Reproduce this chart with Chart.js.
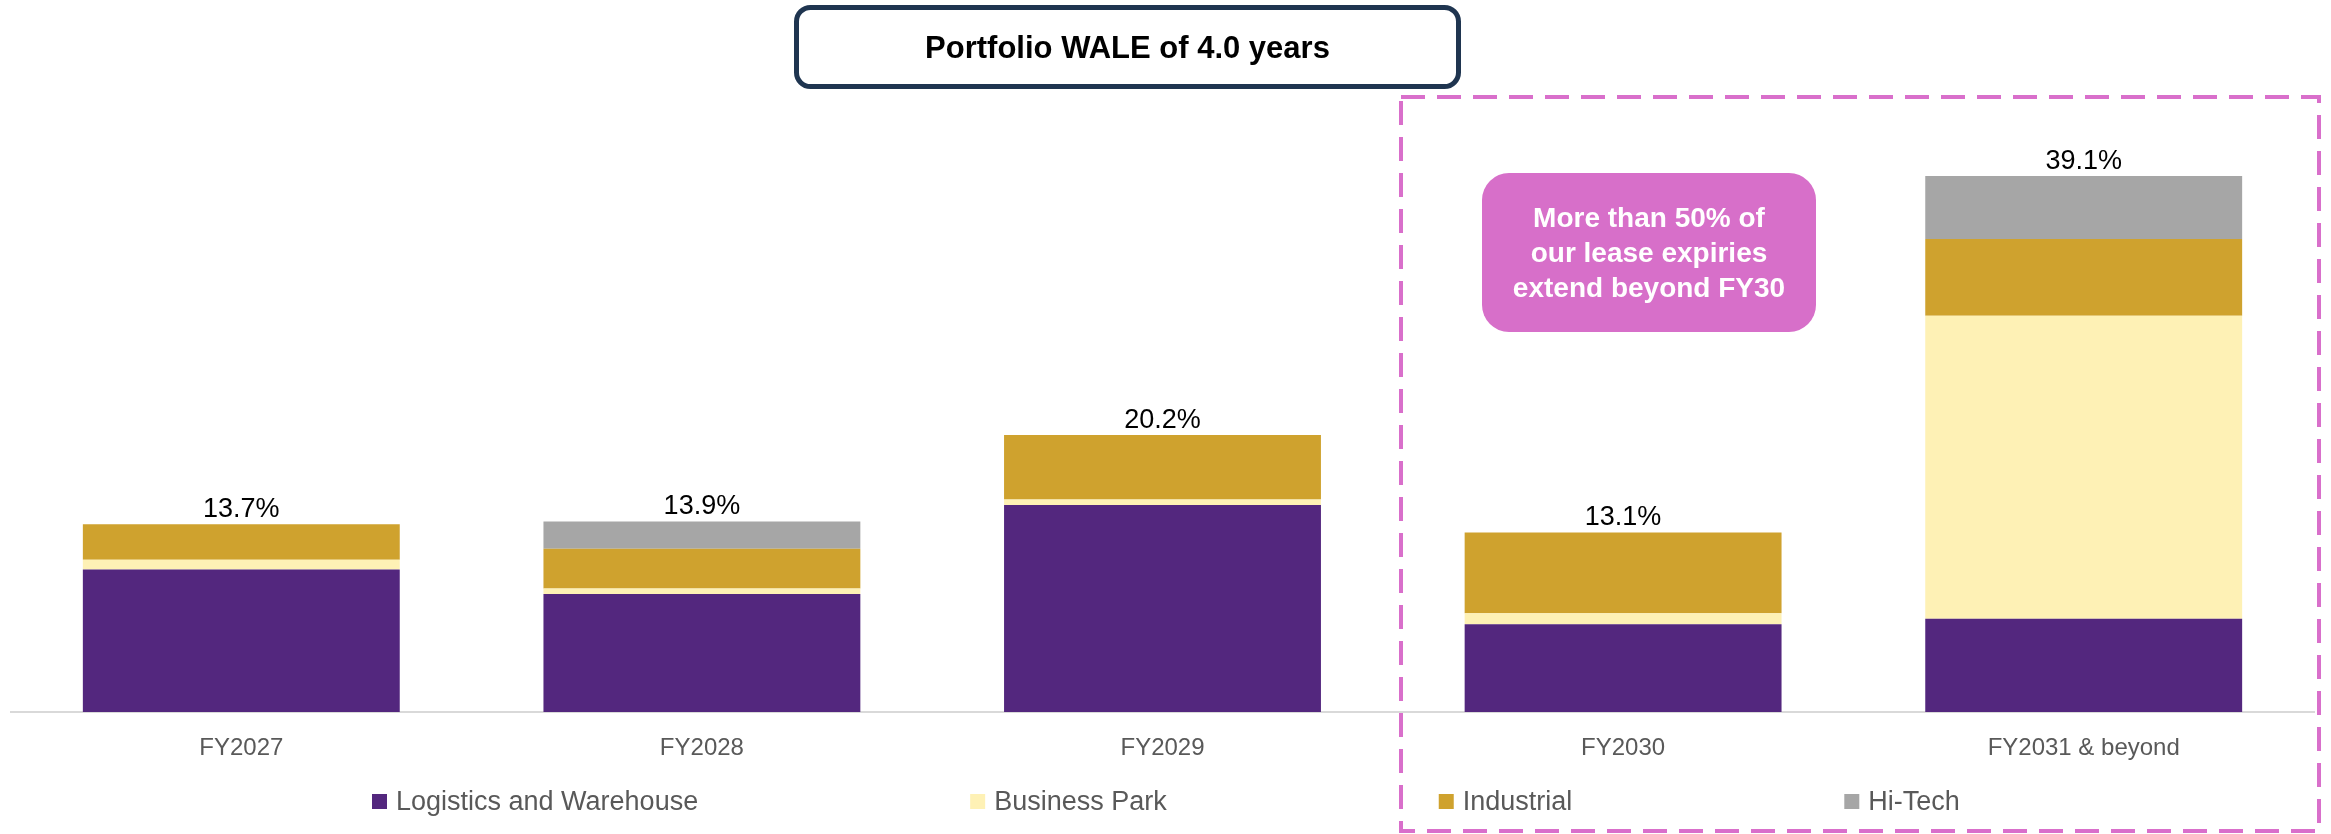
<!DOCTYPE html>
<html>
<head>
<meta charset="utf-8">
<title>Portfolio lease expiry</title>
<script src="https://cdn.jsdelivr.net/npm/chart.js@4.4.1/dist/chart.umd.min.js"></script>
<style>
    html, body { margin: 0; padding: 0; background: #ffffff; }
    #wrap { width: 2331px; height: 834px; }
</style>
</head>
<body>
<div id="wrap"><canvas id="expiryChart" width="2331" height="834"></canvas></div>
<script>
// lease expiry profile (% of portfolio)
const categories = ["FY2027", "FY2028", "FY2029", "FY2030", "FY2031 & beyond"];
const logistics = [10.4, 8.6, 15.1, 6.4, 6.8];
const businessPark = [0.7, 0.4, 0.4, 0.8, 22.1];
const industrial = [2.6, 2.9, 4.7, 5.9, 5.6];
const hiTech = [0, 2.0, 0, 0, 4.6];
const totals = [13.7, 13.9, 20.2, 13.1, 39.1];

const seriesNames = ["Logistics and Warehouse", "Business Park", "Industrial", "Hi-Tech"];
const seriesColors = ["#53277E", "#FEF1B5", "#CFA22E", "#A6A6A6"];

const titleText = "Portfolio WALE of 4.0 years";
const calloutLines = ["More than 50% of", "our lease expiries", "extend beyond FY30"];

const FONT = "'Liberation Sans', Arial, sans-serif";

function roundRect(ctx, x, y, w, h, r) {
    ctx.beginPath();
    ctx.moveTo(x + r, y);
    ctx.lineTo(x + w - r, y);
    ctx.arcTo(x + w, y, x + w, y + r, r);
    ctx.lineTo(x + w, y + h - r);
    ctx.arcTo(x + w, y + h, x + w - r, y + h, r);
    ctx.lineTo(x + r, y + h);
    ctx.arcTo(x, y + h, x, y + h - r, r);
    ctx.lineTo(x, y + r);
    ctx.arcTo(x, y, x + r, y, r);
    ctx.closePath();
}

// totals above each stack
const totalLabels = {
    id: "totalLabels",
    afterDatasetsDraw(chart) {
        const ctx = chart.ctx;
        const xs = chart.scales.x, ys = chart.scales.y;
        ctx.save();
        ctx.font = "27px " + FONT;
        ctx.fillStyle = "#000000";
        ctx.textAlign = "center";
        ctx.textBaseline = "alphabetic";
        totals.forEach((t, i) => {
            ctx.fillText(t.toFixed(1) + "%", xs.getPixelForValue(i), ys.getPixelForValue(t) - 7);
        });
        ctx.restore();
    }
};

// title box, dashed highlight, callout and legend
const decorations = {
    id: "decorations",
    afterDraw(chart) {
        const ctx = chart.ctx;
        ctx.save();

        // title box
        ctx.lineWidth = 5;
        ctx.strokeStyle = "#1F3550";
        ctx.fillStyle = "#ffffff";
        roundRect(ctx, 796.5, 7.5, 662, 79, 14);
        ctx.fill();
        ctx.stroke();
        ctx.fillStyle = "#000000";
        ctx.font = "bold 31px " + FONT;
        ctx.textAlign = "center";
        ctx.textBaseline = "alphabetic";
        ctx.fillText(titleText, 1127.5, 57.5);

        // dashed highlight around FY2030 onwards
        ctx.setLineDash([24, 12]);
        ctx.lineWidth = 4;
        ctx.strokeStyle = "#D96FCB";
        ctx.strokeRect(1401, 97, 918, 734);
        ctx.setLineDash([]);

        // callout
        ctx.fillStyle = "#D76FC9";
        roundRect(ctx, 1482, 173, 334, 159, 27);
        ctx.fill();
        ctx.fillStyle = "#ffffff";
        ctx.font = "bold 28px " + FONT;
        calloutLines.forEach((line, i) => {
            ctx.fillText(line, 1649, 227 + i * 35);
        });

        // legend
        ctx.font = "27px " + FONT;
        ctx.textAlign = "left";
        let x = 372;
        chart.data.datasets.forEach(ds => {
            ctx.fillStyle = ds.backgroundColor;
            ctx.fillRect(x, 794, 15, 15);
            ctx.fillStyle = "#595959";
            ctx.fillText(ds.label, x + 24, 810);
            x += 24 + ctx.measureText(ds.label).width + 272;
        });

        ctx.restore();
    }
};

const seriesData = [logistics, businessPark, industrial, hiTech];

const ctx = document.getElementById("expiryChart").getContext("2d");
new Chart(ctx, {
    type: "bar",
    data: {
        labels: categories,
        datasets: seriesNames.map((name, i) => ({
            label: name,
            data: seriesData[i],
            backgroundColor: seriesColors[i],
            borderWidth: 0,
            barPercentage: 0.688,
            categoryPercentage: 1.0
        }))
    },
    options: {
        responsive: false,
        animation: false,
        devicePixelRatio: 1,
        layout: { padding: { left: 11, right: 17, top: 95, bottom: 0 } },
        plugins: {
            legend: { display: false },
            tooltip: { enabled: false }
        },
        scales: {
            x: {
                stacked: true,
                offset: true,
                grid: { display: false, drawTicks: false },
                border: { display: true, color: "#D9D9D9", width: 2 },
                ticks: {
                    padding: 22,
                    color: "#595959",
                    font: { family: FONT, size: 24 }
                },
                afterFit(scale) { scale.height = 122; }
            },
            y: {
                stacked: true,
                display: false,
                min: 0,
                max: 45
            }
        }
    },
    plugins: [totalLabels, decorations]
});
</script>
</body>
</html>
